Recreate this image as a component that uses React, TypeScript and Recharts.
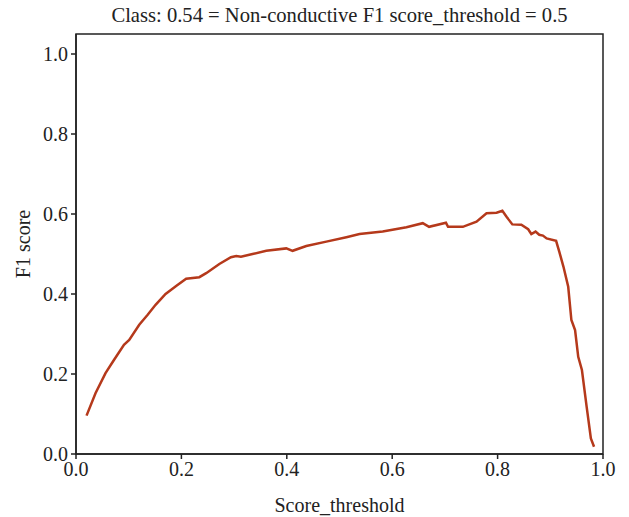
import { LineChart, Line, XAxis, YAxis, ReferenceArea } from "recharts";

// F1 score measured against the score threshold (non-conductive class)
const thresholds = [
  0.02, 0.037, 0.056, 0.072, 0.091, 0.101, 0.12, 0.136, 0.151, 0.17, 0.19, 0.209, 0.234, 0.247,
  0.272, 0.294, 0.304, 0.313, 0.335, 0.361, 0.399, 0.411, 0.437, 0.475, 0.513, 0.538, 0.582,
  0.627, 0.658, 0.67, 0.702, 0.706, 0.734, 0.76, 0.779, 0.798, 0.809, 0.817, 0.828, 0.845,
  0.858, 0.864, 0.872, 0.879, 0.886, 0.893, 0.911, 0.917, 0.925, 0.934, 0.94, 0.947, 0.953,
  0.96, 0.969, 0.977, 0.983,
];
const f1Scores = [
  0.096, 0.152, 0.202, 0.235, 0.273, 0.285, 0.323, 0.348, 0.373, 0.4, 0.42, 0.438, 0.442, 0.452,
  0.475, 0.492, 0.495, 0.493, 0.5, 0.508, 0.514, 0.508, 0.52, 0.531, 0.542, 0.55, 0.556,
  0.567, 0.577, 0.568, 0.578, 0.568, 0.568, 0.581, 0.602, 0.603, 0.608, 0.593, 0.574, 0.573,
  0.562, 0.55, 0.556, 0.548, 0.546, 0.539, 0.533, 0.506, 0.468, 0.418, 0.335, 0.31, 0.243,
  0.21, 0.118, 0.039, 0.018,
];
const axisTicks = [0, 0.2, 0.4, 0.6, 0.8, 1.0];

const title = "Class: 0.54 = Non-conductive F1 score_threshold = 0.5";

const data = thresholds.map((t, i) => ({ threshold: t, f1: f1Scores[i] }));

const font = "Liberation Serif";
const textStyle = { fontSize: 20, fill: "#222", fontFamily: font };

export default function App() {
  return (
    <div style={{ position: "absolute", left: 0, top: 0, background: "#fff", fontFamily: font }}>
      <LineChart
        width={629}
        height={517}
        data={data}
        margin={{ top: 34, right: 26, bottom: 0, left: 0 }}
        style={{ fontFamily: font }}
      >
        <XAxis
          dataKey="threshold"
          type="number"
          domain={[0, 1]}
          ticks={axisTicks}
          tickFormatter={(v: number) => v.toFixed(1)}
          tick={{ ...textStyle, style: textStyle }}
          tickSize={5}
          tickMargin={3}
          height={63}
          stroke="#222"
          strokeWidth={1.5}
          label={{ value: "Score_threshold", position: "insideBottom", offset: 5, style: textStyle }}
        />
        <YAxis
          type="number"
          domain={[0, 1.05]}
          ticks={axisTicks}
          tickFormatter={(v: number) => v.toFixed(1)}
          tick={{ ...textStyle, style: textStyle }}
          tickSize={5}
          tickMargin={3}
          width={76}
          stroke="#222"
          strokeWidth={1.5}
          allowDataOverflow
          label={{ value: "F1 score", angle: -90, position: "center", dx: -15, style: textStyle }}
        />
        {/* plot frame, with the title sitting on top of it */}
        <ReferenceArea
          x1={0}
          x2={1}
          y1={0}
          y2={1.05}
          fill="none"
          stroke="#222"
          strokeWidth={1.5}
          ifOverflow="visible"
          label={{
            value: title,
            position: "top",
            offset: 12,
            style: { ...textStyle, fontSize: 20.6 },
          }}
        />
        <Line
          type="linear"
          dataKey="f1"
          stroke="#b5391b"
          strokeWidth={2.5}
          dot={false}
          isAnimationActive={false}
        />
      </LineChart>
    </div>
  );
}
